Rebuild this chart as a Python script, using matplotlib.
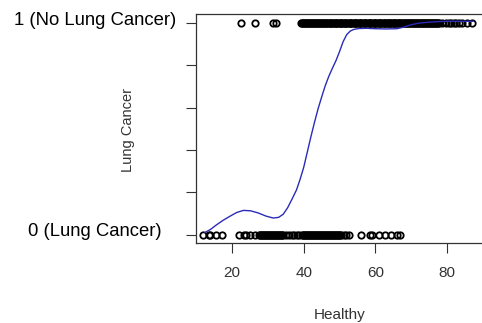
import matplotlib
matplotlib.use("Agg")
import matplotlib.pyplot as plt

plt.rcParams["font.family"] = ["Liberation Sans", "DejaVu Sans"]

# Healthy scores of people without lung cancer (y = 1)
healthy_no_cancer = [
    22.5, 26.5, 31.4, 32.3,
    39.2, 39.5, 39.9, 40.2, 40.4, 40.7, 41.0, 41.3, 41.6, 41.8,
    42.1, 42.4, 42.7, 43.0, 43.2, 43.5, 43.8, 44.1, 44.4, 44.6,
    44.9, 45.2, 45.5, 45.8, 46.0, 46.3, 46.6, 46.9, 47.2, 47.4,
    47.7, 48.0, 48.3, 48.6, 48.8, 49.1, 49.4, 49.7, 50.0, 50.2,
    50.5, 50.8, 51.1, 51.4, 51.6, 51.9, 52.2, 52.5, 52.8, 53.0,
    53.3, 53.6, 53.9, 54.2, 54.4, 54.7, 55.0, 55.3, 55.6, 55.8,
    56.1, 56.4, 56.7, 57.0, 57.2, 57.5, 57.8, 58.1, 58.4, 58.6,
    58.9, 59.2, 59.5, 59.8, 60.0, 60.3, 60.6, 60.9, 61.2, 61.4,
    61.7, 62.0, 62.3, 62.6, 62.8, 63.1, 63.4, 63.7, 64.0, 64.2,
    64.5, 64.8, 65.1, 65.4, 65.6, 65.9, 66.2, 66.5, 66.8, 67.0,
    67.3, 67.6, 67.9, 68.2, 68.4, 68.7, 69.0, 69.3, 69.6, 69.8,
    70.1, 70.4, 70.7, 71.0, 71.2, 71.5, 71.8, 72.1, 72.4, 72.6,
    72.9, 73.2, 73.5, 73.8, 74.0, 74.3, 74.6, 74.9, 75.2, 75.4,
    75.7, 76.0, 76.3, 76.6, 76.8, 77.1, 77.4, 77.7,
    78.5, 79.6, 80.4, 81.2, 81.9, 82.6, 83.3,
    84.2, 85.5, 86.9,
]

# Healthy scores of people with lung cancer (y = 0)
healthy_cancer = [
    12.0, 13.6, 14.0, 15.5, 17.2,
    22.0, 23.4, 24.0, 25.0, 26.3,
    27.5, 27.8, 28.1, 28.4, 28.6, 28.9, 29.2, 29.5, 29.8, 30.0,
    30.3, 30.6, 30.9, 31.2, 31.4, 31.7, 32.0, 32.3, 32.6, 32.8,
    33.1, 33.4, 33.7, 34.0, 34.3,
    35.1, 35.8, 36.6, 37.3, 38.1, 38.8,
    39.5, 39.8, 40.1, 40.4, 40.6, 40.9, 41.2, 41.5, 41.8, 42.0,
    42.3, 42.6, 42.9, 43.2, 43.4, 43.7, 44.0, 44.3, 44.6, 44.8,
    45.1, 45.4, 45.7, 46.0, 46.2, 46.5, 46.8, 47.1, 47.4, 47.6,
    47.9, 48.2, 48.5, 48.8, 49.0, 49.3, 49.6, 49.9, 50.2, 50.5,
    51.2, 51.9, 52.6,
    56.0, 58.5, 59.1, 61.0, 62.6, 64.3, 66.0, 67.0,
]

# loess smooth
smooth_x = [12.5, 14.0, 15.7, 17.5, 19.5, 21.3, 23.2, 25.2, 27.3, 29.5,
            31.5, 33.0, 34.3, 35.5, 36.8, 38.0, 39.0, 40.0, 41.0, 42.0,
            43.0, 44.0, 45.0, 46.0, 47.0, 48.0, 49.0, 50.0, 51.0, 52.0,
            53.0, 54.0, 55.5, 57.5, 60.0, 63.0, 66.0, 68.0, 70.0, 72.0,
            74.3, 77.0, 80.0, 84.0, 87.2]
smooth_y = [0.011, 0.025, 0.047, 0.068, 0.088, 0.105, 0.115, 0.113, 0.103, 0.088,
            0.079, 0.082, 0.097, 0.127, 0.170, 0.212, 0.262, 0.318, 0.390, 0.462,
            0.530, 0.594, 0.650, 0.703, 0.748, 0.786, 0.822, 0.865, 0.912, 0.945,
            0.962, 0.970, 0.974, 0.975, 0.973, 0.972, 0.973, 0.981, 0.992, 0.999,
            1.003, 1.006, 1.008, 1.008, 1.008]

ytick_vals = [0, 0.2, 0.4, 0.6, 0.8, 1.0]
ytick_text = {0: "0 (Lung Cancer)", 1.0: "1 (No Lung Cancer)"}

dark = "#333333"

fig = plt.figure(figsize=(4.82, 3.23), dpi=100)
ax = fig.add_axes([196 / 482, 80 / 323, 294 / 482, 229 / 323])

ax.plot(healthy_no_cancer, [1] * len(healthy_no_cancer), "o", mfc="none",
        mec="black", ms=4.6, mew=1.3)
ax.plot(healthy_cancer, [0] * len(healthy_cancer), "o", mfc="none",
        mec="black", ms=4.6, mew=1.3)
ax.plot(smooth_x, smooth_y, color="#2b2bb8", lw=1.0)

ax.set_xlim(9.96, 91.97)
ax.set_ylim(-0.039, 1.0425)

ax.set_xticks([20, 40, 60, 80])
ax.set_yticks(ytick_vals)
ax.set_yticklabels([])
# the two outer y labels are centred on a common column left of the axis
for val, txt in ytick_text.items():
    ax.text(-0.3435, val + 0.014, txt, transform=ax.get_yaxis_transform(),
            ha="center", va="center", fontsize=13.3, color="black")

ax.tick_params(axis="x", labelsize=11, labelcolor=dark, length=7.2,
               width=0.8, pad=9.5, color=dark)
ax.tick_params(axis="y", length=7.2, width=0.8, color=dark)

for side in ["left", "top", "bottom"]:
    ax.spines[side].set_color(dark)
    ax.spines[side].set_linewidth(0.9)
ax.spines["right"].set_visible(False)

ax.set_xlabel("Healthy", fontsize=11, color=dark)
ax.xaxis.label.set_va("center")
ax.xaxis.set_label_coords(0.49, -0.314)
ax.set_ylabel("Lung Cancer", fontsize=10.5, color=dark)
ax.yaxis.label.set_va("center")
ax.yaxis.set_label_coords(-0.231, 0.493)

fig.savefig("out.png", dpi=100)
